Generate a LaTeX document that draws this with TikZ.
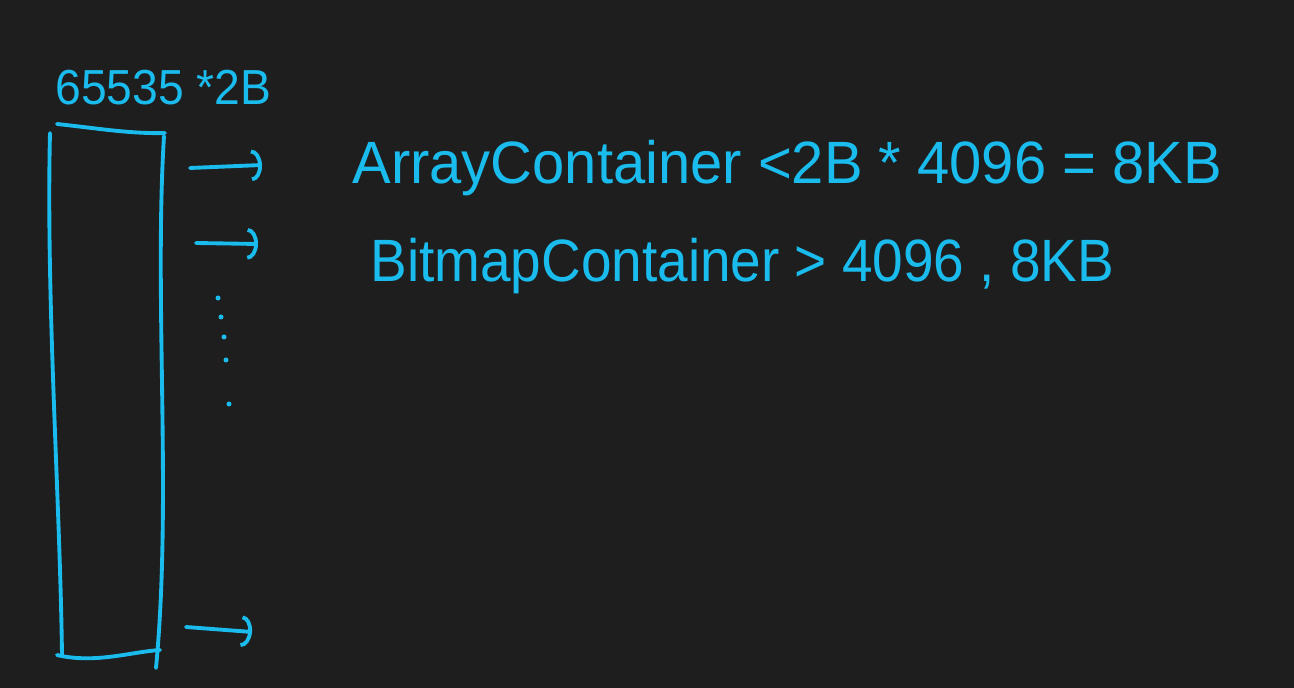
\documentclass[tikz,border=0pt]{standalone}
\usepackage{fontspec}
\setmainfont{Liberation Sans}
\usetikzlibrary{arrows.meta}
\definecolor{boardc}{HTML}{1E1E1E}
\definecolor{inkc}{HTML}{1ABCEE}
\tikzset{
  ink/.style={draw=inkc, line width=2.2pt, line cap=round, line join=round},
  pointer/.style={ink, -{Arc Barb[length=6pt, width=18pt]}},
  dotmark/.style={fill=inkc},
  note/.style={text=inkc, anchor=west, inner sep=0pt, font=\fontsize{34}{34}\selectfont},
}

\begin{document}
\begin{tikzpicture}[x=0.02cm, y=-0.02cm]
\fill[boardc] (0,0) rectangle (1294,688);
% the slot array
\draw[ink] (57,124) .. controls (95,128) and (130,134) .. (165,133);
\draw[ink] (50,133) .. controls (46,300) and (60,500) .. (62,655);
\draw[ink] (164,136) .. controls (154,300) and (172,500) .. (156,668);
\draw[ink] (57,655) .. controls (95,664) and (130,652) .. (160,650);
% size label
\node[note, font=\fontsize{28}{28}\selectfont] (size) at (55,88) {\scalebox{0.94}[1]{65535 *2B}};
% pointers
\coordinate (p1s) at (190,168);
\coordinate (p1e) at (262,165);
\coordinate (p2s) at (196,243);
\coordinate (p2e) at (258,244);
\coordinate (p3s) at (186,627);
\coordinate (p3e) at (252,632);
\draw[pointer] (p1s) -- (p1e);
\draw[pointer] (p2s) -- (p2e);
\draw[pointer] (p3s) -- (p3e);
% dots between
\fill[dotmark] (218,298) circle (2.5);
\fill[dotmark] (221,317) circle (2.5);
\fill[dotmark] (224,337) circle (2.5);
\fill[dotmark] (226,360) circle (2.5);
\fill[dotmark] (229,404) circle (2.5);
% container notes
\node[note] (arr) at (352,168) {\scalebox{0.97}[1]{ArrayContainer <2B * 4096 = 8KB}};
\node[note] (bmp) at (370,266) {\scalebox{0.92}[1]{BitmapContainer > 4096 , 8KB}};
\end{tikzpicture}
\end{document}
